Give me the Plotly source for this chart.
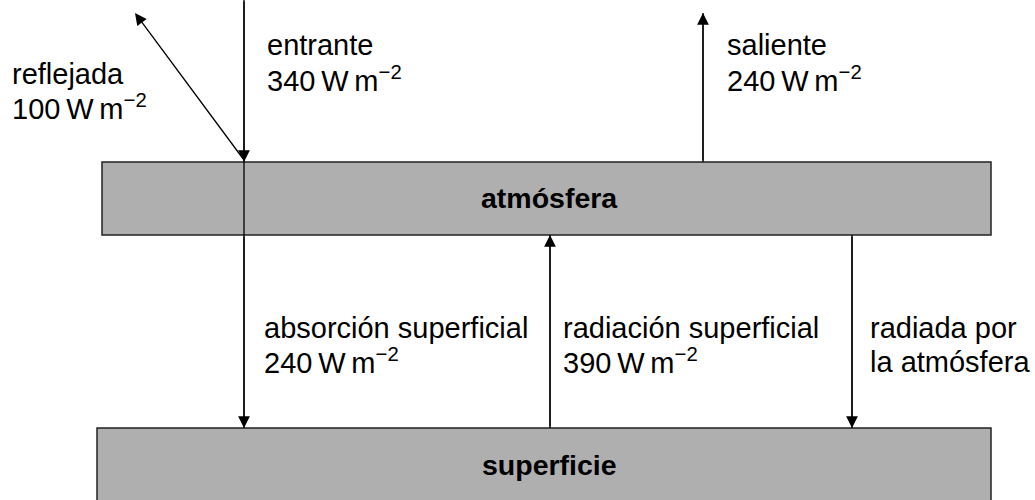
import plotly.graph_objects as go

# Energy flux values (W m^-2)
flux_names = ["reflejada", "entrante", "saliente", "absorción superficial", "radiación superficial"]
flux_values = [100, 340, 240, 240, 390]
boxes = ["atmósfera", "superficie"]

TS = "\u2009"
def wm(v):
    return f"{v}{TS}W{TS}m<sup>\u22122</sup>"

FONT = "Liberation Sans, Arial, sans-serif"
W, H = 1035, 500

fig = go.Figure()
fig.update_xaxes(range=[0, W], visible=False)
fig.update_yaxes(range=[H, 0], visible=False)

GRAY = "#afafaf"
EDGE = "#222222"
# boxes
fig.add_shape(type="rect", x0=102, x1=991, y0=162, y1=235, fillcolor=GRAY,
              line=dict(color=EDGE, width=1.5), layer="below")
fig.add_shape(type="rect", x0=97, x1=991, y0=428, y1=520, fillcolor=GRAY,
              line=dict(color=EDGE, width=1.5), layer="below")
# vertical flux lines
fig.add_shape(type="line", x0=244, x1=244, y0=0, y1=428, line=dict(color="black", width=1.3))
fig.add_shape(type="line", x0=550, x1=550, y0=235, y1=428, line=dict(color="black", width=1.3))
fig.add_shape(type="line", x0=852, x1=852, y0=235, y1=428, line=dict(color="black", width=1.3))
fig.add_shape(type="line", x0=703, x1=703, y0=13, y1=162, line=dict(color="black", width=1.3))

def arrow(x, y, ax, ay):
    fig.add_annotation(x=x, y=y, ax=ax, ay=ay, xref="x", yref="y", axref="x", ayref="y",
                       text="", showarrow=True, arrowhead=2, arrowsize=1.8, arrowwidth=1.3,
                       arrowcolor="black", standoff=0, startstandoff=0)

arrow(135, 13, 244, 160)   # reflejada
arrow(244, 162, 244, 0)    # entrante
arrow(703, 13, 703, 162)   # saliente
arrow(244, 428, 244, 235)  # absorción
arrow(550, 235, 550, 428)  # radiación superficial
arrow(852, 428, 852, 235)  # radiada por la atmósfera

def label(x, y, text, bold=False):
    fig.add_annotation(x=x, y=y, xref="x", yref="y", text=f"<b>{text}</b>" if bold else text,
                       showarrow=False, xanchor="left" if not bold else "center", yanchor="middle",
                       font=dict(family=FONT, size=29 if not bold else 28.5, color="black"))

label(10, 74, flux_names[0])
label(10, 107, wm(flux_values[0]))
label(265, 45, flux_names[1])
label(265, 79, wm(flux_values[1]))
label(725, 45, flux_names[2])
label(725, 79, wm(flux_values[2]))
label(262, 328, flux_names[3])
label(262, 361, wm(flux_values[3]))
label(561, 328, flux_names[4])
label(561, 361, wm(flux_values[4]))
label(868, 328, "radiada por")
label(868, 362, "la atmósfera")
label(549, 198, boxes[0], bold=True)
label(549, 465, boxes[1], bold=True)

fig.update_layout(width=W, height=H, margin=dict(l=0, r=0, t=0, b=0),
                  plot_bgcolor="white", paper_bgcolor="white", showlegend=False)
fig.write_html("out.html", config={"displayModeBar": False},
               post_script="document.body.style.margin='0';")
